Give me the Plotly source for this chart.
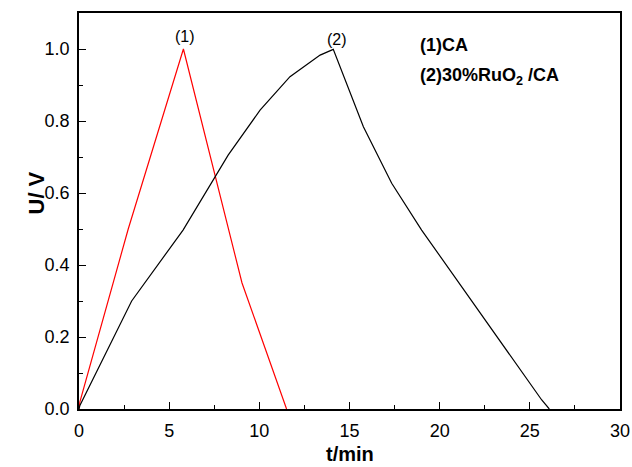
import plotly.graph_objects as go

# Curve (1) CA
t1 = [0, 0.05, 2.73, 5.79, 9.04, 11.51]
u1 = [0.0, 0.02, 0.50, 1.0, 0.35, 0.0]

# Curve (2) 30%RuO2/CA
t2 = [0, 0.05, 2.92, 5.77, 8.27, 10.04, 11.70, 13.37, 14.10, 15.77, 17.34, 19.0, 25.66, 26.08]
u2 = [0.0, 0.01, 0.30, 0.497, 0.705, 0.83, 0.923, 0.983, 0.999, 0.784, 0.627, 0.497, 0.025, 0.0]

x_ticks = [0, 5, 10, 15, 20, 25, 30]
y_ticks = [0.0, 0.2, 0.4, 0.6, 0.8, 1.0]

FONT = "Liberation Sans, Arial, Helvetica, sans-serif"

fig = go.Figure()
fig.add_trace(go.Scatter(x=t1, y=u1, mode="lines", line=dict(color="#ff0000", width=1.2), showlegend=False))
fig.add_trace(go.Scatter(x=t2, y=u2, mode="lines", line=dict(color="#000000", width=1.2), showlegend=False))

axis_common = dict(
    showgrid=False, zeroline=False, showline=True, linecolor="black", linewidth=1.5,
    mirror=True, ticks="inside", ticklen=7, tickwidth=1.2, tickcolor="black",
    tickfont=dict(family=FONT, size=18, color="black"), automargin=False,
)
fig.update_xaxes(range=[0, 30], tickvals=x_ticks, ticklabelstandoff=5, **axis_common,
                 minor=dict(ticks="inside", ticklen=4, tickwidth=1.2, tickcolor="black", dtick=2.5, tick0=0))
fig.update_yaxes(range=[0, 1.1], tickvals=y_ticks, tickformat=".1f", ticklabelstandoff=4, **axis_common,
                 minor=dict(ticks="inside", ticklen=4, tickwidth=1.2, tickcolor="black", dtick=0.1, tick0=0))

# axis titles
fig.add_annotation(xref="paper", yref="paper", x=0.5, y=0, yshift=-58, yanchor="bottom",
                   text="<b>t/min</b>", showarrow=False,
                   font=dict(family=FONT, size=20, color="black"))
fig.add_annotation(xref="paper", yref="y", x=0, xshift=-58, y=0.6, textangle=-90,
                   text="<b>U/ V</b>", showarrow=False,
                   font=dict(family=FONT, size=22, color="black"))

fig.add_annotation(x=5.85, y=1.0, text="(1)", showarrow=False, yanchor="bottom", yshift=2,
                   font=dict(family=FONT, size=16, color="black"))
fig.add_annotation(x=14.33, y=0.999, text="(2)", showarrow=False, yanchor="bottom", yshift=-1,
                   font=dict(family=FONT, size=16, color="black"))
fig.add_annotation(x=18.8, y=1.011, text="<b>(1)CA</b>", showarrow=False, xanchor="left",
                   font=dict(family=FONT, size=18, color="black"))
fig.add_annotation(x=18.8, y=0.925, text="<b>(2)30%RuO<sub>2</sub> /CA</b>", showarrow=False, xanchor="left",
                   font=dict(family=FONT, size=18, color="black"))

fig.update_layout(
    width=632, height=467, margin=dict(l=79, r=12, t=13, b=58),
    plot_bgcolor="white", paper_bgcolor="white",
)
fig.write_html("out.html")
